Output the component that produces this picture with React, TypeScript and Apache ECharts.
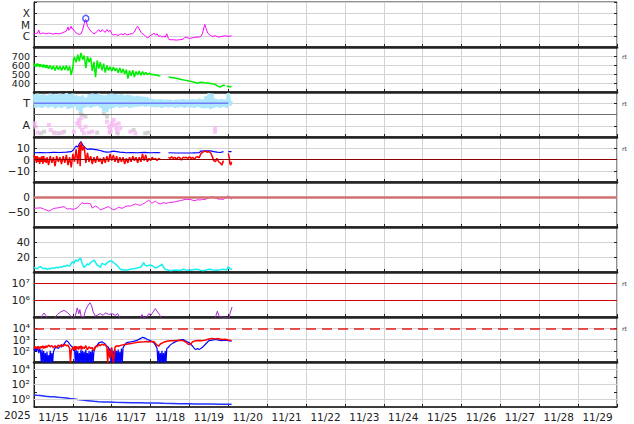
import React, { useEffect, useRef } from 'react';
import * as echarts from 'echarts';

type P = [number, number | null];

const dayLabels = ['11/15', '11/16', '11/17', '11/18', '11/19', '11/20', '11/21', '11/22', '11/23', '11/24', '11/25', '11/26', '11/27', '11/28', '11/29'];
const yearLabel = '2025';

// X-ray flux (W/m2), hours since 11/15 00:00
const xrayFlux: P[] = [
  [0, 1.5e-6], [1, 1.6e-6], [2, 1.7e-6], [3, 3.1e-6], [3.5, 1.6e-6], [4, 1.5e-6], [5, 1.7e-6], [6, 1.75e-6], [7, 1.5e-6], [8, 1.55e-6],
  [9, 1.7e-6], [10, 1.6e-6], [11, 1.5e-6], [12, 1.4e-6], [13, 1.6e-6], [14, 1.6e-6], [15, 1.5e-6], [16, 1.5e-6], [17, 1.7e-6], [18, 2.0e-6],
  [19, 2.2e-6], [20, 2.6e-6], [21, 6.1e-6], [21.5, 3.0e-6], [22, 3.5e-6], [23, 7.0e-6], [23.5, 4.0e-6], [24, 4.3e-6], [25, 2.65e-6], [26, 1.75e-6],
  [27, 1.5e-6], [28, 1.3e-6], [29, 1.5e-6], [30, 3.1e-6], [31, 1.23e-5], [31.8, 2.85e-5], [32.2, 2.5e-5], [33, 7.0e-6], [34, 4.3e-6], [35, 2.65e-6],
  [36, 1.9e-6], [37, 1.5e-6], [38, 1.75e-6], [39, 2.5e-6], [40, 3.5e-6], [41, 2.15e-6], [42, 3.5e-6], [43, 2.65e-6], [44, 2.0e-6], [45, 3.5e-6],
  [46, 2.3e-6], [47, 3.1e-6], [48, 1.5e-6], [49, 1.15e-6], [50, 1.3e-6], [51, 1.2e-6], [52, 1.07e-6], [53, 1.3e-6], [54, 1.5e-6], [55, 1.15e-6],
  [56, 1.75e-6], [57, 1.2e-6], [58, 1.23e-6], [59, 1.4e-6], [60, 1.5e-6], [61, 1.6e-6], [62, 2.15e-6], [63, 4.3e-6], [64, 7.0e-6], [65, 4.0e-6],
  [66, 2.15e-6], [67, 1.5e-6], [68, 1.23e-6], [69, 8.7e-7], [70, 6.6e-7], [71, 7.6e-7], [72, 1.15e-6], [73, 1.23e-6], [74, 1.75e-6], [75, 1.15e-6],
  [76, 1.5e-6], [77, 8.7e-7], [78, 1.0e-6], [79, 7.6e-7], [80, 8.7e-7], [81, 7.6e-7], [82, 1.5e-6], [83, 5.4e-7], [84, 4.4e-7], [86, 4.4e-7],
  [88, 4.1e-7], [90, 4.4e-7], [92, 5.0e-7], [93, 6.6e-7], [94, 7.6e-7], [95, 6.6e-7], [96, 5.7e-7], [98, 6.6e-7], [100, 7.6e-7], [102, 7.6e-7],
  [103, 8.7e-7], [104, 1.5e-6], [105, 6.1e-6], [105.5, 1.0e-5], [106, 5.4e-6], [107, 2.15e-6], [108, 1.32e-6], [109, 1.07e-6], [110, 8.7e-7], [112, 1.0e-6],
  [114, 7.6e-7], [116, 8.7e-7], [118, 1.0e-6], [120, 8.7e-7], [122, 1.0e-6],
];
const flarePeak: P[] = [[32, 3.5e-5]];

// Solar wind speed (km/s)
const windSpeed: P[] = [
  [0, 615], [0.5, 585], [1, 612], [1.5, 580], [2, 618], [2.5, 590], [3, 610], [3.5, 578], [4, 608], [4.5, 585], [5, 600], [5.5, 572], [6, 605],
  [6.5, 575], [7, 598], [7.5, 565], [8, 600], [9, 560], [10, 595], [11, 550], [12, 590], [13, 540], [14, 592], [15, 548], [16, 585], [17, 538],
  [18, 588], [19, 545], [20, 595], [21, 538], [22, 585], [23, 490], [24, 575], [24.5, 665], [25, 690], [26, 630], [27, 715], [28, 640], [29, 735],
  [30, 660], [31, 705], [32, 565], [33, 695], [34, 630], [35, 680], [36, 535], [37, 635], [38, 465], [39, 650], [40, 560], [41, 630], [42, 540],
  [43, 615], [44, 515], [45, 595], [46, 540], [47, 580], [48, 530], [49, 578], [50, 535], [51, 565], [52, 515], [53, 568], [54, 510], [55, 555],
  [56, 500], [57, 548], [58, 450], [59, 538], [60, 480], [61, 542], [62, 465], [63, 528], [64, 490], [65, 532], [66, 485], [67, 528], [68, 490],
  [69, 518], [70, 492], [71, 508], [72, 500], [73, 490], [74, 497], [75, 486], [76, 492], [77, 480], [78, 478], [79, null], [83, 468], [85, 460],
  [87, 455], [89, 448], [91, 440], [93, 432], [95, 425], [97, 418], [99, 408], [100, 402], [101, 398], [102, 405], [103, 408], [105, 402],
  [107, 400], [109, 395], [111, 390], [112, 385], [113, 372], [114, 360], [115, 355], [116, 368], [117, 375], [118, 372], [118.5, null],
  [119, 365], [120, 362], [121, 358], [122, 362],
];

// Row panel (T / A), level units: T = 3, A = 1
const tScatter: P[] = [
  [0, 3.8], [1, 2.6], [2, 3.85], [3, 2.65], [4, 3.75], [5, 2.6], [6, 3.8], [7, 2.7], [8, 3.7], [9, 2.6], [10, 3.85], [11, 2.7], [12, 3.8], [13, 2.55],
  [14, 3.75], [15, 2.65], [16, 3.85], [17, 2.6], [18, 3.8], [19, 2.7], [20, 3.9], [21, 2.5], [22, 3.8], [23, 2.6], [24, 3.85], [25, 2.7], [26, 3.7],
  [27, 2.4], [28, 3.6], [29, 2.2], [30, 3.7], [31, 2.6], [32, 3.5], [33, 2.7], [34, 3.8], [35, 2.6], [36, 3.85], [37, 2.7], [38, 3.8], [39, 2.75],
  [40, 3.85], [41, 2.6], [42, 3.75], [43, 2.3], [44, 3.7], [45, 2.2], [46, 3.8], [47, 2.5], [48, 3.85], [49, 2.6], [50, 3.8], [51, 2.7], [52, 3.75],
  [53, 2.6], [54, 3.8], [55, 2.65], [56, 3.7], [57, 2.7], [58, 3.75], [59, 2.6], [60, 3.7], [61, 2.65], [62, 3.6], [63, 2.7], [64, 3.65], [65, 2.7],
  [66, 3.6], [67, 2.75], [68, 3.55], [69, 2.7], [70, 3.5], [71, 2.75], [72, 3.4], [73, 2.7], [74, 3.35], [75, 2.65], [76, 3.3], [77, 2.7], [78, 3.35],
  [79, 2.6], [80, 3.3], [81, 2.7], [82, 3.3], [83, 2.65], [84, 3.3], [85, 2.7], [86, 3.25], [87, 2.6], [88, 3.3], [89, 2.65], [90, 3.3], [91, 2.7],
  [92, 3.35], [93, 2.6], [94, 3.3], [95, 2.7], [96, 3.3], [97, 2.65], [98, 3.35], [99, 2.6], [100, 3.3], [101, 2.7], [102, 3.4], [103, 2.6], [104, 3.3],
  [105, 2.55], [106, 3.6], [107, 2.6], [108, 3.9], [109, 2.5], [110, 3.85], [111, 2.6], [112, 3.4], [113, 2.7], [114, 3.3], [115, 2.6], [116, 3.35],
  [117, 2.7], [118, 3.3], [119, 2.6], [120, 3.9], [121, 2.8], [122, 3.2],
];
const tLevel: P[] = [[0, 3], [120, 3]];
const aPink: P[] = [
  [0.4, 1.21], [1.0, 0.92], [2.1, 0.39], [9.2, 1.07], [10.3, 0.62], [13.3, 0.33], [17.4, 0.39], [24.6, 0.47], [26.7, 1.21], [27.7, 1.51],
  [28.3, 0.92], [29.1, 1.66], [29.7, 0.62], [30.8, 0.33], [31.8, 0.92], [33.8, 0.39], [35.9, 0.47], [45.1, 1.36], [46.2, 0.92], [47.2, 0.62],
  [48.2, 1.21], [49.2, 1.51], [50.3, 1.07], [51.3, 0.47], [52.3, 1.21], [53.3, 0.77], [59.5, 0.47], [62.6, 0.33], [111.8, 0.77], [111.8, 0.47],
  [47.7, 1.0], [50.8, 0.8], [28.0, 1.25], [46.7, 0.4],
];
const aGray: P[] = [
  [4.1, 0.33], [6.2, 0.47], [12.3, 0.39], [15.4, 0.33], [18.5, 0.47], [28.7, 2.1], [29.7, 1.96], [31.8, 1.81], [43.1, 2.1], [45.1, 1.81],
  [47.2, 0.47], [51.7, 0.33], [61.5, 0.62], [68.7, 0.33], [70.8, 0.39], [39.0, 0.39],
];

// Magnetic field (nT)
const bt: P[] = [
  [0, 6], [4, 6.2], [8, 6], [12, 6.3], [16, 6.2], [20, 6.5], [23, 7], [24, 8], [25, 10], [26, 12], [27, 11], [28, 14], [29, 16], [30, 13],
  [31, 11], [32, 10], [33, 9], [35, 9.5], [37, 9], [39, 8.5], [41, 8], [43, 7], [45, 6.5], [47, 6.8], [49, 7.5], [51, 7], [53, 6.5], [55, 6.3],
  [57, 6], [60, 6.2], [64, 6], [68, 6.3], [72, 6], [76, 6.1], [78, 6], [79, null], [83, 6], [88, 5.8], [93, 5.8], [98, 5.9], [102, 6], [103, 7.5],
  [106, 7.8], [109, 7.6], [111, 7], [113, 6.5], [115, 6.2], [117, 7], [118, null], [120, 7], [122, 7],
];
const bz: P[] = [
  [0, 4], [0.5, -1], [1, 3], [1.5, -3], [2, 3], [2.5, -2], [3, 2], [3.5, -4], [4, 2], [4.5, -2], [5, 3], [5.5, -4], [6, 3], [6.5, -2], [7, 1],
  [7.5, -3], [8, 2], [9, -5], [10, 3], [11, -3], [12, 2], [13, -6], [14, 3], [15, -2], [16, 2], [17, -4], [18, 3], [19, -3], [20, 4], [21, -5],
  [22, 2], [23, -7], [24, 5], [25, -2], [26, 9], [27, -4], [28, 13], [28.5, -6], [29, 15.5], [30, 8], [31, 12], [32, -3], [33, 6], [34, -2],
  [35, 3], [36, -4], [37, 2], [38, -3], [39, 3], [40, -2], [41, 1], [42, -4], [43, 2], [44, -3], [45, 3], [46, -2], [47, 5], [48, -1], [49, 4],
  [50, -2], [51, 3], [52, -3], [53, 2], [54, -2], [55, 2], [56, -4], [57, 1], [58, -3], [59, 2], [60, -2], [61, 3], [62, -1], [63, 2], [64, -3],
  [65, 2], [66, -2], [67, 5], [68, -1], [69, 4], [70, -2], [71, 1], [72, -1], [73, 2], [74, 0], [75, 1], [76, -1], [77, 1], [78, 0], [79, null],
  [83, 2], [84, 1], [85, 2.5], [86, 1], [87, 2], [88, 0], [89, 2], [90, 1.5], [91, -0.5], [92, 2], [93, 1.5], [94, 2], [95, 1], [96, 2.5], [97, 1],
  [98, 2], [99, 0], [100, 2], [101, 2.5], [102, 1.5], [103, 5], [104, 6.5], [105, 7], [106, 7.5], [107, 6.5], [108, 7], [109, 6], [110, 3],
  [111, -1], [112, -2], [113, 1], [114, -2], [115, -3], [116, -5], [117, -1], [118, null], [120, 5.5], [120.5, 2], [121, -4], [121.5, -5], [122, -2],
];

// Dst index (nT)
const dst: P[] = [
  [0, -38], [2, -37], [4.1, -36], [6, -40], [9.2, -47], [11, -42], [12.3, -38], [15, -36], [18.5, -32], [20.5, -40], [22, -39], [24.6, -41],
  [26.7, -36], [28, -28], [29.7, -19], [31, -22], [32.8, -21], [34.9, -23], [35.9, -37], [37.9, -30], [39.5, -35], [41, -43], [42.5, -40],
  [44.1, -36], [46.2, -32], [47.5, -38], [49.2, -43], [50.8, -39], [52.3, -34], [54.4, -38], [56, -33], [57.4, -30], [59.5, -30], [61, -27],
  [62.6, -23], [64, -26], [65.6, -28], [67, -24], [68.7, -19], [70.8, -10], [72, -17], [72.8, -21], [74.9, -14], [76.5, -20], [77.9, -23],
  [80, -19], [81.5, -21], [83.1, -19], [86.2, -17], [88, -15], [90.3, -12], [92, -10], [93.3, -8], [96.4, -8], [98, -11], [99.5, -12], [101, -9],
  [102.6, -10], [104, -8], [105.6, -8], [107, -5], [108.7, -1], [110.8, 1], [112, -3], [113.8, -7], [115, -7], [116.9, -8], [118, -4], [119.4, 3],
  [121, -1], [122.3, -8],
];

// Proton density (p/cc)
const density: P[] = [
  [0, 6.2], [1, 5.0], [2, 4.4], [3, 6.5], [4.1, 7.1], [5, 5.3], [6.2, 4.4], [7, 5.0], [8.2, 3.6], [9, 4.8], [10.3, 4.4], [11, 5.5], [12.3, 4.9],
  [13, 5.6], [14.4, 6.2], [15, 5.4], [16.4, 7.1], [17.5, 6.6], [18.5, 8], [19.5, 7.4], [20.5, 9.3], [21.3, 8.2], [22.2, 8], [23.6, 13.8],
  [24.6, 11.6], [25.6, 16], [26.3, 15], [27.1, 14.7], [28, 17.5], [28.7, 18.7], [29.7, 11.6], [30.8, 6.2], [31.8, 8], [32.8, 10.7],
  [33.8, 9.6], [34.9, 12.4], [36, 14], [36.9, 16], [37.9, 13.3], [39, 9.3], [40, 8.2], [41, 6.2], [42, 11.6], [43, 10.4], [44.1, 9.8],
  [45.5, 12.8], [47.2, 15.1], [48.8, 13.3], [50.3, 10.7], [51.3, 8.9], [52.3, 6.2], [53.3, 3.6], [55.4, 2.7], [57.4, 2.7], [59.5, 3.6],
  [61.5, 4.4], [63.6, 5.3], [65.6, 6.2], [66.7, 8.5], [67.7, 12.4], [68.7, 8.9], [69.7, 8], [71.8, 9.3], [73.4, 8], [74.9, 5.3], [76.9, 7.1],
  [78, 8.4], [79, 10.7], [80, 6.2], [81, 3.6], [84.1, 1.8], [86, 2.4], [88.2, 2.7], [90, 2.1], [92.3, 3.6], [94, 2.6], [96.4, 2.2], [98, 3.0],
  [100.5, 3.6], [102.5, 2.5], [104.6, 1.8], [106.7, 3.1], [108.7, 3.6], [110.5, 2.6], [112.8, 2.2], [115, 3.0], [116.9, 3.6], [119, 2.7],
  [120, 7.1], [121, 4.4], [122.3, 3.6],
];

// Energetic particles panel (raw values)
const fluencePurple: P[] = [
  [0, 6.3e4], [4.1, 7.9e4], [5.1, 1.26e5], [6.2, 1.74e5], [7.2, 1.26e5], [8.2, 7.9e4], [12.3, 7.9e4], [14.4, 1.41e5], [16.4, 2.0e5],
  [18.5, 2.5e5], [20.1, 2.0e5], [21.5, 1.58e5], [22.6, 1.12e5], [23.6, 7.9e4], [25.6, 1.26e5], [26.7, 3.55e5], [27.7, 1.58e5], [28.3, 2.8e5],
  [29.1, 1.12e5], [30.8, 1.0e5], [31.8, 2.5e5], [32.8, 4.0e5], [34.5, 7.2e5], [35.5, 5.0e5], [36.5, 2.0e5], [37.9, 1.12e5], [39, 1.26e5],
  [41, 1.58e5], [42.7, 1.26e5], [44.1, 1.78e5], [46.2, 1.41e5], [48.2, 1.58e5], [50.3, 1.26e5], [51.7, 1.58e5], [53.3, 7.9e4], [65.6, 7.9e4],
  [66.7, 1.41e5], [67.7, 8.9e4], [69.7, 1.0e5], [70.8, 1.58e5], [72.2, 1.26e5], [74.9, 3.16e5], [76.3, 2.0e5], [77.5, 1.41e5], [79, 7.1e4],
  [111.8, 7.9e4], [113.2, 2.24e5], [114.5, 1.0e5], [120.6, 8.9e4], [121, 1.58e5], [122.3, 4.0e5],
];
const particlesBlue: P[] = [
  [0, 158], [0.5, 100], [1, 200], [1.5, 79], [2, 178], [2.5, 126], [3, 63], [3.5, 141], [4, 100], [4.5, 8], [5, 126], [5.5, 8], [6, 100],
  [6.5, 8], [7, 63], [7.5, 8], [8, 79], [8.5, 8], [9, 40], [9.5, 8], [10, 100], [10.5, 8], [11, 63], [11.5, 8], [12, 79], [12.5, 126], [13, 178],
  [14, 200], [15, 158], [16, 251], [17, 224], [18, 316], [19, 501], [20, 794], [21, 631], [22, 398], [23, 251], [24, 200], [24.5, 100], [25, 158],
  [25.5, 8], [26, 126], [26.5, 8], [27, 100], [27.5, 8], [28, 63], [28.5, 8], [29, 126], [29.5, 8], [30, 100], [30.5, 8], [31, 79], [31.5, 8],
  [32, 126], [32.5, 8], [33, 63], [33.5, 8], [34, 100], [34.5, 8], [35, 79], [35.5, 8], [36, 126], [36.5, 8], [37, 79], [37.5, 158], [38, 224],
  [39, 316], [40, 501], [41, 562], [42, 631], [43, 501], [44, 398], [45, 251], [46, 200], [46.5, 100], [47, 158], [47.5, 8], [48, 126], [48.5, 8],
  [49, 100], [49.5, 8], [50, 126], [50.5, 8], [51, 100], [51.5, 8], [52, 126], [52.5, 8], [53, 79], [53.5, 8], [54, 158], [54.5, 8], [55, 200],
  [56, 316], [57, 501], [58, 562], [60, 631], [62, 708], [64, 891], [66, 1259], [67, 1585], [68, 1413], [69, 1259], [70, 1000], [72, 794],
  [74, 501], [75, 316], [76, 158], [76.5, 8], [77, 100], [77.5, 8], [78, 63], [78.5, 8], [79, 100], [79.5, 8], [80, 63], [80.5, 8], [81, 100],
  [81.5, 8], [82, 158], [83, 200], [84, 316], [86, 501], [88, 708], [90, 891], [92, 1000], [94, 708], [96, 501], [98, 251], [99, 158], [100, 126],
  [101, 158], [102, 126], [104, 200], [106, 398], [108, 794], [110, 891], [112, 1000], [114, 891], [116, 794], [118, 891], [120, 794], [122, 708],
];
const particlesRed: P[] = [
  [0, 158], [0.5, 251], [1, 141], [1.5, 224], [2, 158], [2.5, 251], [3, 126], [3.5, 224], [4, 158], [4.5, 251], [5, 178], [5.5, 282], [6, 158],
  [6.5, 251], [7, 178], [7.5, 282], [8, 200], [9, 316], [10, 224], [11, 282], [12, 178], [13, 282], [14, 200], [15, 316], [16, 224], [17, 355],
  [18, 251], [19, 355], [20, 282], [21, 316], [22, 158], [22.5, 8], [23, 100], [24, 200], [24.5, 126], [25, 251], [25.5, 112], [26, 251],
  [26.5, 141], [27, 224], [27.5, 126], [28, 251], [28.5, 158], [29, 282], [29.5, 126], [30, 224], [31, 158], [32, 282], [33, 126], [34, 224],
  [35, 158], [36, 200], [37, 100], [38, 251], [39, 224], [40, 355], [41, 282], [42, 398], [43, 316], [44, 355], [45, 200], [45.5, 8], [46, 158],
  [47, 20], [48, 200], [49, 8], [50, 200], [51, 282], [52, 251], [54, 316], [56, 355], [58, 398], [60, 447], [62, 501], [64, 562], [66, 603],
  [68, 631], [70, 661], [72, 631], [74, 661], [75, 447], [76, 316], [77, 251], [78, 398], [80, 562], [82, 708], [84, 759], [86, 794], [88, 832],
  [90, 851], [92, 794], [94, 562], [95, 398], [96, 355], [97, 447], [98, 631], [100, 794], [102, 832], [104, 794], [106, 891], [108, 1122],
  [110, 1259], [112, 1122], [114, 1202], [116, 1000], [118, 1047], [120, 891], [122, 794],
];

// Electron flux (raw)
const electrons: P[] = [
  [0, 4.0], [2, 3.6], [5, 3.2], [7, 2.7], [10, 2.4], [12, 2.3], [15, 1.95], [17, 1.8], [20, 1.6], [22, 1.4], [25, 1.17], [27, 1.0], [30, 0.85],
  [32, 0.72], [35, 0.63], [37, 0.57], [40, 0.51], [43, 0.47], [46, 0.45], [50, 0.42], [55, 0.4], [60, 0.38], [65, 0.36], [70, 0.34], [75, 0.33],
  [80, 0.31], [85, 0.3], [90, 0.28], [95, 0.27], [100, 0.25], [105, 0.26], [110, 0.25], [115, 0.24], [120, 0.24], [122, 0.23],
];

const FONT = 'DejaVu Sans';
const INK = '#222';
const GRIDC = '#d3d3d3';
const L = 34, R = 17, TOP = 2, H = 45;
const SUPS = ['\u2070', '\u00b9', '\u00b2', '\u00b3', '\u2074', '\u2075', '\u2076', '\u2077'];

const log = (d: P[]) => d.map(([t, v]) => [t, v == null ? null : Math.log10(v)]);
const sup = (n: number) => '10' + SUPS[n];
const minus = (v: number) => (v < 0 ? '\u2212' + Math.abs(v) : String(v));

interface PanelCfg {
  min: number; max: number; interval: number;
  label: (v: number) => string; split: boolean; rt?: number; fontSize?: number; lh?: number;
}
const panels: PanelCfg[] = [
  { min: -7, max: -3, interval: 1, label: (v) => ({ '-4': 'X', '-5': 'M', '-6': 'C' } as any)[String(v)] || '', split: true, fontSize: 10.5, lh: 10 },
  { min: 300, max: 800, interval: 100, label: (v) => (v > 300 && v < 800 ? String(v) : ''), split: true, rt: 700, fontSize: 9.5, lh: 8 },
  { min: 0, max: 4, interval: 1, label: (v) => (v === 3 ? 'T' : v === 1 ? 'A' : ''), split: true, rt: 3, fontSize: 11, lh: 10 },
  { min: -20, max: 20, interval: 10, label: (v) => (Math.abs(v) < 20 ? minus(v) : ''), split: true, rt: 10, lh: 10 },
  { min: -100, max: 50, interval: 50, label: (v) => (v === 0 || v === -50 ? minus(v) : ''), split: true, lh: 12 },
  { min: 0, max: 60, interval: 20, label: (v) => (v === 20 || v === 40 ? String(v) : ''), split: true, lh: 12 },
  { min: 5, max: 7.7, interval: 1, label: (v) => (v === 6 || v === 7 ? sup(v) : ''), split: false, rt: 7, fontSize: 11, lh: 14 },
  { min: 1, max: 5, interval: 1, label: (v) => (v >= 2 && v <= 4 ? sup(v) : ''), split: true, rt: 4, fontSize: 10.5, lh: 10 },
  { min: -1, max: 5, interval: 1, label: (v) => (v === 0 || v === 2 || v === 4 ? sup(v) : ''), split: false, fontSize: 11, lh: 13 },
];

const lineS = (i: number, data: any[], color: string, width = 1, extra: any = {}) => ({
  type: 'line', xAxisIndex: i, yAxisIndex: i, data, showSymbol: false, symbol: 'none',
  lineStyle: { color, width }, connectNulls: false, silent: true, z: 3, ...extra,
});
const mLine = (vals: number[], style: any) => ({
  silent: true, symbol: 'none', label: { show: false }, lineStyle: style,
  data: vals.map((v) => ({ yAxis: v })),
});

function buildOption() {
  const grid = panels.map((_, i) => ({
    left: L, right: R, top: TOP + H * i, height: H, show: true, borderColor: INK, borderWidth: 1,
  }));
  const xAxis: any[] = panels.map((_, i) => ({
    gridIndex: i, type: 'value', min: 0, max: 360, interval: 24,
    axisLabel: { show: false },
    axisLine: { show: true, onZero: false, lineStyle: { color: INK, width: i < 8 ? 2.5 : 1.5 } },
    axisTick: { show: true, inside: true, length: 3, lineStyle: { color: INK } },
    splitLine: { show: true, lineStyle: { color: GRIDC, width: 1 } },
  }));
  xAxis.push({
    gridIndex: 8, type: 'category', data: dayLabels, boundaryGap: true, position: 'bottom',
    axisLine: { show: false }, axisTick: { show: false }, splitLine: { show: false },
    axisLabel: { interval: 0, color: INK, fontFamily: FONT, fontSize: 10.5, margin: 4 },
  });
  const yAxis: any[] = panels.map((p, i) => ({
    gridIndex: i, type: 'value', min: p.min, max: p.max, interval: p.interval, position: 'left',
    axisLine: { show: true, onZero: false, lineStyle: { color: INK } },
    axisTick: { show: true, inside: true, length: 3, lineStyle: { color: INK } },
    splitLine: { show: p.split, lineStyle: { color: GRIDC, width: 1 } },
    axisLabel: {
      formatter: p.label, color: INK, fontFamily: FONT, fontSize: p.fontSize || 10.5, margin: 4, lineHeight: p.lh || 10,
    },
  }));
  panels.forEach((p, i) => {
    yAxis.push({
      gridIndex: i, type: 'value', min: p.min, max: p.max, interval: p.interval, position: 'right',
      axisLine: { show: false, onZero: false }, splitLine: { show: false },
      axisTick: { show: true, inside: true, length: 3, lineStyle: { color: INK } },
      axisLabel: { formatter: (v: number) => (p.rt !== undefined && v === p.rt ? 'rt' : ''), color: '#333', fontFamily: FONT, fontSize: 6, margin: 5, lineHeight: 7 },
    });
  });

  const series: any[] = [
    lineS(0, log(xrayFlux), '#ff00ff', 1),
    {
      type: 'scatter', xAxisIndex: 0, yAxisIndex: 0, data: log(flarePeak), symbol: 'circle', symbolSize: 6, silent: true, z: 4,
      itemStyle: { color: 'rgba(255,255,255,0)', borderColor: '#2a3cff', borderWidth: 1.5 },
    },
    lineS(1, windSpeed, '#00ee00', 1.5),
    lineS(2, tScatter, '#aee6fb', 3),
    lineS(2, tLevel, '#6f7dfa', 1.5, { z: 4, markLine: mLine([2], { color: '#6e6e6e', width: 1, type: 'solid' }) }),
    { type: 'scatter', xAxisIndex: 2, yAxisIndex: 2, data: aGray, symbol: 'rect', symbolSize: 4, silent: true, itemStyle: { color: '#c9c9c9' } },
    { type: 'scatter', xAxisIndex: 2, yAxisIndex: 2, data: aPink, symbol: 'rect', symbolSize: 4, silent: true, itemStyle: { color: '#f6b9f3' } },
    lineS(3, bt, '#0000ff', 1.2),
    lineS(3, bz, '#ff0000', 1.5, { markLine: mLine([0], { color: '#8b0000', width: 1, type: 'solid' }) }),
    lineS(4, dst, '#ee22ee', 1, { markLine: mLine([0], { color: '#d27070', width: 2.5, type: 'solid' }) }),
    lineS(5, density, '#14f0f0', 1.5),
    lineS(6, log(fluencePurple), '#a52ad0', 1, { markLine: mLine([6, 7], { color: '#cc0000', width: 1, type: 'solid' }) }),
    lineS(7, log(particlesBlue), '#0000ff', 1.2),
    lineS(7, log(particlesRed), '#ff0000', 1.5, { markLine: mLine([4], { color: '#e02020', width: 1.5, type: [10, 6] }) }),
    lineS(8, log(electrons), '#2233ff', 1.5, { markLine: mLine([0, 2, 4], { color: GRIDC, width: 1, type: 'solid' }) }),
  ];

  return {
    animation: false,
    backgroundColor: '#ffffff',
    textStyle: { fontFamily: FONT },
    grid, xAxis, yAxis, series,
    graphic: [
      { type: 'text', x: 4, y: 409.5, silent: true, style: { text: yearLabel, font: `10.5px "${FONT}"`, fill: INK } },
    ],
  };
}

export default function App() {
  const ref = useRef<HTMLDivElement>(null);
  useEffect(() => {
    if (!ref.current) return;
    const chart = echarts.init(ref.current, undefined, { renderer: 'svg' });
    chart.setOption(buildOption() as any);
    return () => chart.dispose();
  }, []);
  return <div ref={ref} style={{ width: 634, height: 424, position: 'absolute', left: 0, top: 0 }} />;
}
